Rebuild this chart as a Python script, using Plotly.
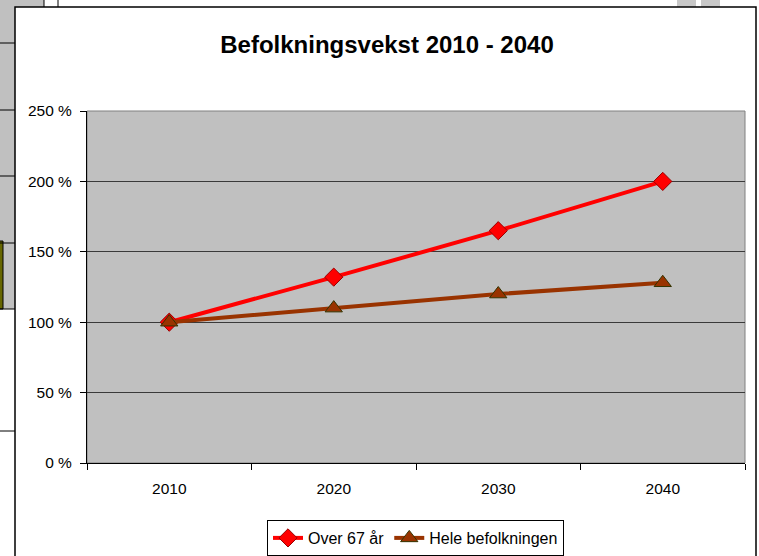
import plotly.graph_objects as go

years = ["2010", "2020", "2030", "2040"]
over67 = [100, 132, 165, 200]
hele = [100, 110, 120, 128]
ytick_vals = [0, 50, 100, 150, 200, 250]
ytick_text = ["0 %", "50 %", "100 %", "150 %", "200 %", "250 %"]

W, H = 759, 556
FONT = "Liberation Sans, Arial, sans-serif"
L, R, T, B = 87, 745, 111, 463

fig = go.Figure()
fig.add_trace(go.Scatter(
    x=years, y=over67, name="Over 67 år", mode="lines+markers",
    line=dict(color="#FF0000", width=4),
    marker=dict(symbol="diamond", size=14, color="#FF0000",
                line=dict(color="#990000", width=1)),
))
fig.add_trace(go.Scatter(
    x=years, y=hele, name="Hele befolkningen", mode="lines+markers",
    line=dict(color="#993300", width=4),
    marker=dict(symbol="triangle-up", size=15, color="#993300",
                line=dict(color="#333300", width=1)),
))

def fx(x):
    return (x - L) / (R - L)

def fy(y):
    return (B - y) / (B - T)

def px(x0, y0, x1, y1, **kw):
    return dict(type="rect", xref="paper", yref="paper",
                x0=fx(x0), x1=fx(x1), y0=fy(y0), y1=fy(y1),
                layer="below", **kw)

def pline(x0, y0, x1, y1, color="#000000", width=1):
    return dict(type="line", xref="paper", yref="paper",
                x0=fx(x0), x1=fx(x1), y0=fy(y0), y1=fy(y1),
                line=dict(color=color, width=width), layer="below")

shapes = [
    # background spreadsheet pieces
    px(0, 0, 15, 309, fillcolor="#C0C0C0", line=dict(width=0)),
    px(15, 0, 44, 7, fillcolor="#C0C0C0", line=dict(width=0)),
    px(-1, 241, 3, 309, fillcolor="#666600", line=dict(color="#000000", width=1)),
    pline(0, 43, 15, 43), pline(0, 110, 15, 110), pline(0, 176, 15, 176),
    pline(0, 243, 15, 243), pline(0, 309, 15, 309), pline(0, 431, 15, 431),
    pline(44, 0, 44, 7), pline(58, 0, 58, 7),
    px(677, 0, 696, 7, fillcolor="#C8C8C8", line=dict(width=0)),
    px(701, 0, 720, 7, fillcolor="#C8C8C8", line=dict(width=0)),
    # chart area border
    px(15, 7, 756, 560, fillcolor="rgba(0,0,0,0)", line=dict(color="#000000", width=1.5)),
    # plot area border
    px(L, T, R, B, fillcolor="rgba(0,0,0,0)", line=dict(color="#808080", width=1)),
]

fig.update_layout(
    width=W, height=H,
    margin=dict(l=L, r=W - R, t=T, b=H - B, autoexpand=False),
    paper_bgcolor="#FFFFFF",
    plot_bgcolor="#C0C0C0",
    font=dict(family=FONT, color="#000000", size=15.5),
    title=dict(text="<b>Befolkningsvekst 2010 - 2040</b>", x=387 / W, xanchor="center",
               xref="container", yref="container",
               y=1 - 45 / H, yanchor="middle", font=dict(size=24, family=FONT)),
    showlegend=True,
    legend=dict(orientation="h", xref="container", yref="container",
                x=(270 + 291 / 2) / W, xanchor="center",
                y=1 - 538 / H, yanchor="middle",
                bordercolor="#000000", borderwidth=1, bgcolor="#FFFFFF",
                font=dict(size=16, family=FONT), tracegroupgap=0),
    shapes=shapes,
)
fig.update_xaxes(
    type="category", range=[-0.5, 3.5], tickson="boundaries",
    ticks="outside", ticklen=6, tickcolor="#000000",
    showline=True, linecolor="#000000", linewidth=1,
    showgrid=False, zeroline=False, fixedrange=True,
    tickfont=dict(size=15.5, family=FONT), ticklabelstandoff=11,
)
fig.update_yaxes(
    range=[0, 250], tickvals=ytick_vals, ticktext=ytick_text,
    ticks="outside", ticklen=6, tickcolor="#000000",
    showline=True, linecolor="#000000", linewidth=1,
    showgrid=True, gridcolor="#3A3A3A", gridwidth=1,
    zeroline=False, fixedrange=True,
    tickfont=dict(size=15.5, family=FONT), ticklabelstandoff=5,
)

fig.write_html("out.html", config={"displayModeBar": False},
               post_script="document.body.style.margin='0';document.body.style.overflow='hidden';")
